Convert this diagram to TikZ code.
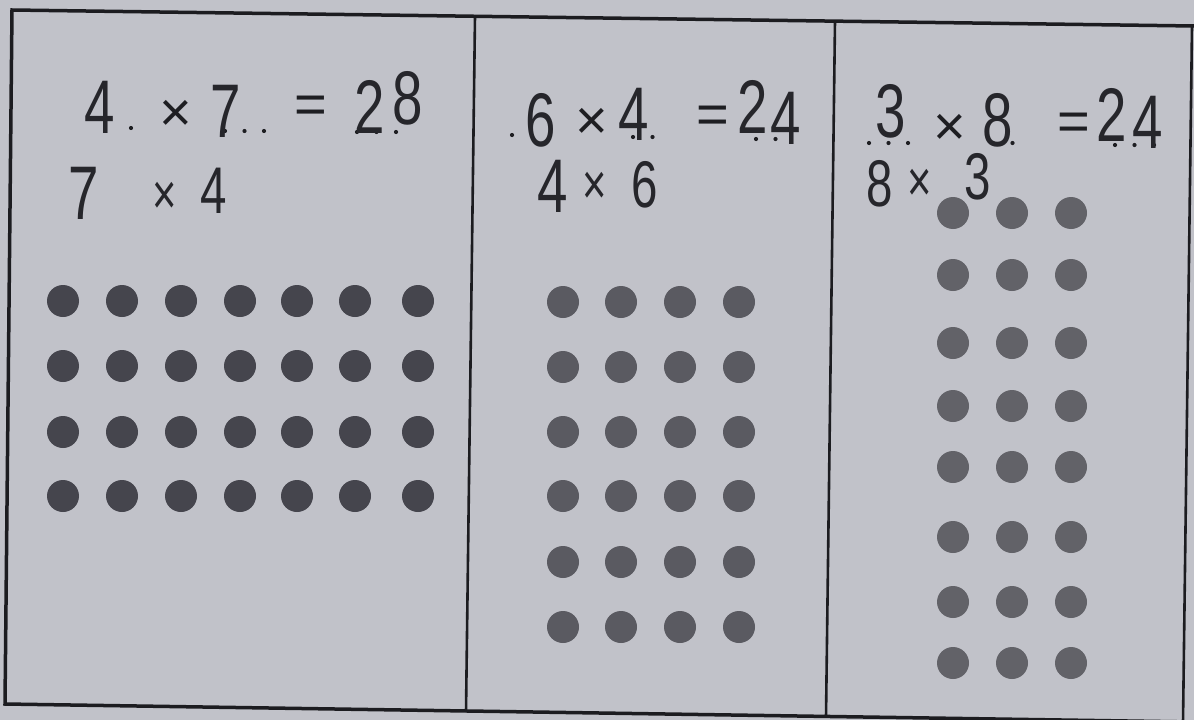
\documentclass[tikz,border=0pt]{standalone}
\usepackage{fontspec}
\setmainfont{Liberation Sans}
\newfontfamily\hwfont{Liberation Sans}[FakeStretch=0.72]
\definecolor{paper}{HTML}{C1C2C9}
\definecolor{frame}{HTML}{1C1C20}
\definecolor{ink}{HTML}{26262B}
\definecolor{prink}{HTML}{1E1E22}
\definecolor{dotA}{HTML}{45454D}
\definecolor{dotB}{HTML}{5A5A61}
\definecolor{dotC}{HTML}{626268}
\tikzset{
  hw/.style={font=\hwfont\fontsize{76}{76}\selectfont, text=ink, inner sep=0pt, anchor=base},
  hwlow/.style={font=\hwfont\fontsize{66}{66}\selectfont, text=ink, inner sep=0pt, anchor=base},
  hwsmall/.style={font=\hwfont\fontsize{58}{58}\selectfont, text=ink, inner sep=0pt},
  pr/.style={font=\fontsize{56}{56}\selectfont, text=prink, inner sep=0pt},
  leader/.style={draw=prink, line width=4.2pt, line cap=round, dash pattern=on 0pt off 19.5pt},
  outer/.style={draw=frame, line width=3.5pt, line join=miter},
  divider/.style={draw=frame, line width=2.6pt},
}
\begin{document}
\begin{tikzpicture}[x=1pt, y=-1pt]
\useasboundingbox (0,0) rectangle (1194,720);
\fill[paper] (0,0) rectangle (1194,720);
% frame
\coordinate (tl) at (12,10);
\coordinate (tr) at (1194,26);
\coordinate (br) at (1194,722);
\coordinate (bl) at (5,704);
\coordinate (d1t) at (475,16);
\coordinate (d1b) at (466,712);
\coordinate (d2t) at (835,21);
\coordinate (d2b) at (826,717);
\coordinate (rt) at (1192,26);
\coordinate (rb) at (1183,722);
\draw[outer] (tr) -- (tl) -- (bl) -- (br);
\draw[divider] (d1t) -- (d1b);
\draw[divider] (d2t) -- (d2b);
\draw[divider] (rt) -- (rb);

% ---------- panel 1 ----------
\draw[leader] (131,128) -- (132,128);
\draw[leader] (225,131) -- (265,131);
\draw[leader] (357,132) -- (398,132);
\node[hw] (a1) at (100,133) {4};
\node[pr] (ax) at (176,116) {×};
\node[hw] (a2) at (226,137) {7};
\node[pr] (aeq) at (311,110) {=};
\node[hw] (a3) at (370,133) {2};
\node[hw] (a4) at (408,124) {8};
\node[hw] (b1) at (84,219) {7};
\node[hwsmall] (bx) at (165,198) {×};
\node[hwlow] (b2) at (214,213) {4};
\foreach \x in {63,122,181,240,297,355,418}
  \foreach \y in {301,366,432,496}
    \fill[dotA] (\x,\y) circle (16pt);

% ---------- panel 2 ----------
\draw[leader] (512,135) -- (513,135);
\draw[leader] (633,137) -- (670,137);
\draw[leader] (756,139) -- (795,139);
\node[hw] (c1) at (541,146) {6};
\node[pr] (cx) at (592,124) {×};
\node[hw] (c2) at (634,140) {4};
\node[pr] (ceq) at (713,120) {=};
\node[hw] (c3) at (753,133) {2};
\node[hw] (c4) at (786,144) {4};
\node[hw] (e1) at (553,212) {4};
\node[hwsmall] (ex) at (595,188) {×};
\node[hwlow] (e2) at (645,207) {6};
\foreach \x in {563,621,680,739}
  \foreach \y in {302,367,432,496,562,627}
    \fill[dotB] (\x,\y) circle (16pt);

% ---------- panel 3 ----------
\draw[leader] (869,143) -- (909,143);
\draw[leader] (993,143) -- (1030,143);
\draw[leader] (1115,145) -- (1156,145);
\node[hw] (f1) at (891,137) {3};
\node[pr] (fx) at (950,130) {×};
\node[hw] (f2) at (998,146) {8};
\node[pr] (feq) at (1074,127) {=};
\node[hw] (f3) at (1112,141) {2};
\node[hw] (f4) at (1148,148) {4};
\node[hwlow] (g1) at (880,206) {8};
\node[hwsmall] (gx) at (920,185) {×};
\node[hwlow] (g2) at (978,199) {3};
\foreach \x in {953,1012,1071}
  \foreach \y in {213,275,343,406,467,537,602,663}
    \fill[dotC] (\x,\y) circle (16pt);
\end{tikzpicture}
\end{document}
